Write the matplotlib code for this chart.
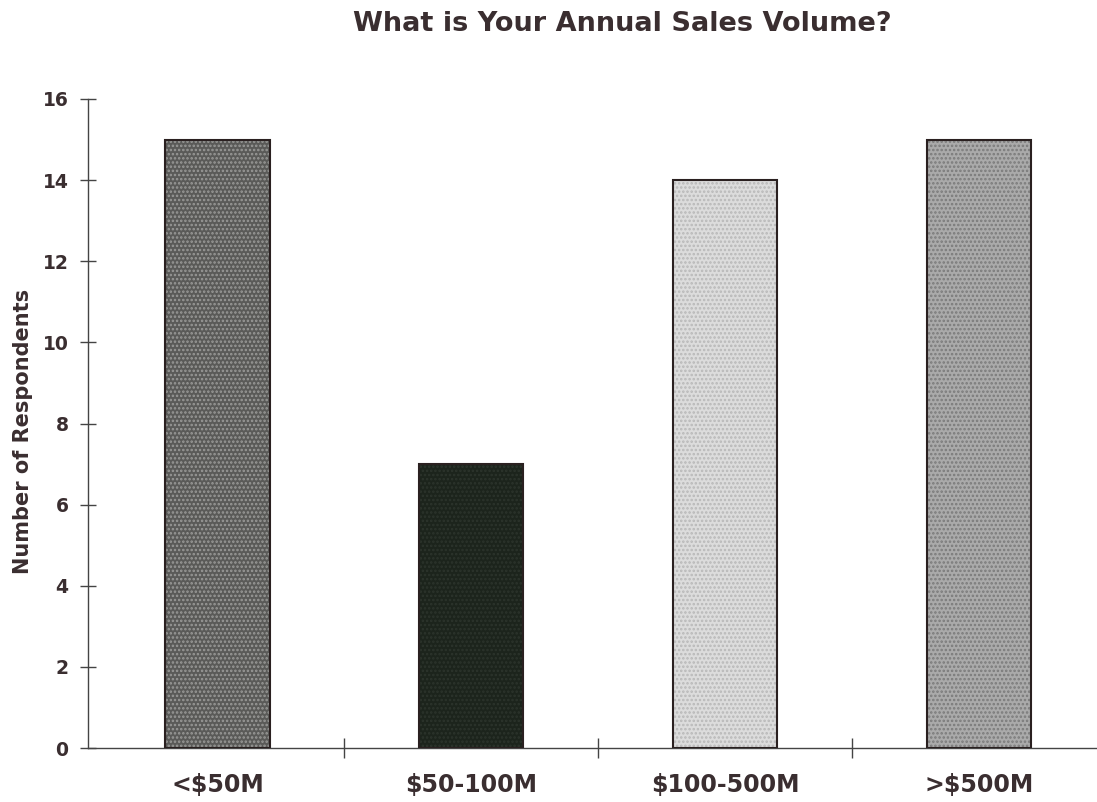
import matplotlib
matplotlib.use("Agg")
import matplotlib.pyplot as plt

categories = ["<$50M", "$50-100M", "$100-500M", ">$500M"]
respondents = [15, 7, 14, 15]
y_ticks = [0, 2, 4, 6, 8, 10, 12, 14, 16]

fills = ["#5a5a58", "#1c241c", "#dcdcdc", "#aaaaaa"]
dots = ["#9a9a98", "#2c342c", "#b8b8b8", "#7a7a7a"]
ink = "#3a2e30"

plt.rcParams["font.family"] = ["DejaVu Sans"]
plt.rcParams["hatch.linewidth"] = 1.2

fig = plt.figure(figsize=(10.97, 8.02), dpi=100)
ax = fig.add_axes([88 / 1097, 54 / 802, 1008 / 1097, 649 / 802])

x = range(len(categories))
bars = ax.bar(x, respondents, width=0.41, color=fills, edgecolor="#2a2020",
              linewidth=1.5, zorder=3)
for b, dc in zip(bars, dots):
    b.set_hatch("....")
    b._hatch_color = matplotlib.colors.to_rgba(dc)

ax.set_xlim(-0.51, 3.46)
ax.set_ylim(0, 16)
ax.set_yticks(y_ticks)
ax.set_yticklabels([str(t) for t in y_ticks], fontsize=13.5, fontweight="bold", color=ink)
ax.set_xticks([0.5, 1.5, 2.5])
ax.set_xticklabels([])
for i, c in enumerate(categories):
    ax.text(i, -0.9, c, ha="center", va="center", fontsize=17,
            fontweight="bold", color=ink)

for s in ["top", "right"]:
    ax.spines[s].set_visible(False)
for s in ["left", "bottom"]:
    ax.spines[s].set_color("#444444")
    ax.spines[s].set_linewidth(1.0)

ax.tick_params(axis="y", direction="inout", length=12, width=1.0, color="#444444", pad=8)
ax.tick_params(axis="x", direction="inout", length=14, width=1.0, color="#444444")

ax.set_ylabel("Number of Respondents", fontsize=15, fontweight="bold", color=ink)
ax.yaxis.set_label_coords(-0.055, 0.487)

fig.text(622 / 1097, 1 - 24 / 802, "What is Your Annual Sales Volume?", ha="center",
         va="center", fontsize=19.5, fontweight="bold", color=ink)

fig.savefig("out.png", dpi=100)
